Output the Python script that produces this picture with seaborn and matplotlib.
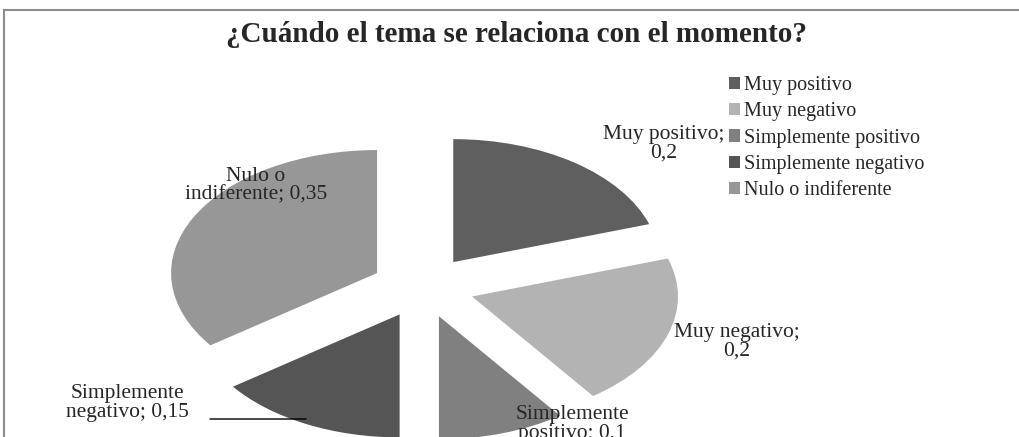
import numpy as np
import pandas as pd
import seaborn as sns
import matplotlib.pyplot as plt
from matplotlib.patches import Rectangle

# datos
categorias = ["Muy positivo", "Muy negativo", "Simplemente positivo",
              "Simplemente negativo", "Nulo o indiferente"]
valores = [0.2, 0.2, 0.1, 0.15, 0.35]
etiquetas = ["Muy positivo;\n0,2", "Muy negativo;\n0,2",
             "Simplemente\npositivo; 0,1", "Simplemente\nnegativo; 0,15",
             "Nulo o\nindiferente; 0,35"]
colores = ["#5f5f5f", "#b3b3b3", "#808080", "#555555", "#979797"]

sns.set_theme(style="white")
plt.rcParams['font.family'] = ['Liberation Serif', 'DejaVu Serif']

W, H = 1019, 437
fig = plt.figure(figsize=(W / 100, H / 100), dpi=100)
ax = fig.add_axes([0, 0, 1, 1])

wedges, _ = ax.pie(valores, colors=colores, startangle=90, counterclock=False,
                   explode=[0.25] * len(valores),
                   wedgeprops=dict(linewidth=0))

# pie estirado como en el original (no circular)
cx, cy, rx, ry = 423, 287, 206, 123
ax.set_aspect('auto')
ax.set_xlim(-cx / rx, (W - cx) / rx)
ax.set_ylim((cy - H) / ry, cy / ry)
ax.axis('off')


def px(x, y):
    return ((x - cx) / rx, (cy - y) / ry)


# posiciones de etiquetas (pixeles del original)
pos_etiquetas = [(664, 144), (737, 342), (572, 424), (127, 403), (256, 186)]
for txt, (x, y) in zip(etiquetas, pos_etiquetas):
    ax.text(*px(x, y), txt, ha='center', va='center', fontsize=15.5,
            linespacing=0.95)

# linea guia de "Simplemente negativo"
ax.annotate("", xy=px(306, 419), xytext=px(210, 419),
            arrowprops=dict(arrowstyle='-', color='black', lw=1.0,
                            shrinkA=0, shrinkB=0))

ax.legend(wedges, categorias, loc='upper left',
          bbox_to_anchor=(719 / W, 1 - 66 / H), frameon=False,
          fontsize=14.5, handlelength=0.55, handleheight=0.55,
          handletextpad=0.2, labelspacing=0.36, borderpad=0)

fig.text(517 / W, 1 - 34 / H, "¿Cuándo el tema se relaciona con el momento?",
         ha='center', va='center', fontsize=21, fontweight='bold')

fig.patches.append(Rectangle((4 / W, -0.1), 1.2, 1 - 10 / H + 0.1,
                             transform=fig.transFigure, fill=False,
                             edgecolor='#8c8c8c', lw=1.5, clip_on=False))

fig.savefig("out.png", dpi=100)
